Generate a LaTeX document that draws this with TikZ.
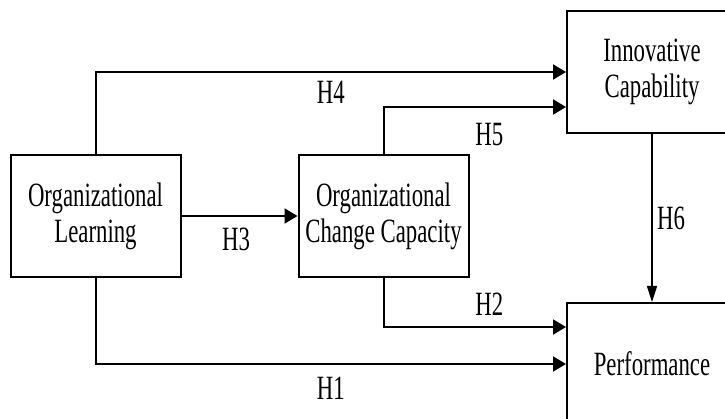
\documentclass[tikz,border=0pt]{standalone}
\usepackage{fontspec}
\setmainfont{Liberation Serif}[FakeStretch=0.67]
\usetikzlibrary{arrows.meta,positioning}
\tikzstyle{bloc} = [draw, rectangle, line width=2pt, minimum width=170pt, minimum height=122pt, inner sep=0pt, align=center]
\tikzstyle{lien} = [line width=2pt, -{Triangle[length=13pt,width=15pt]}]
\tikzstyle{lien_v} = [line width=1.6pt, -{Triangle[length=16pt,width=10pt]}]

\begin{document}
\begin{tikzpicture}[x=1pt, y=-1pt, font=\fontsize{34}{36}\selectfont]
    \useasboundingbox (0,0) rectangle (725,419);
    \clip (0,0) rectangle (725,419);
    \node [bloc] (apprent) at (95.5,216) {Organizational\\Learning};
    \node [bloc, right=116pt of apprent] (changement) {Organizational\\Change Capacity};
    \node [bloc] (innov) at (652,72) {Innovative\\Capability};
    \node [bloc, below=168pt of innov] (perf) {Performance};

    \draw[lien] (apprent) |- node[pos=0.75, below=5pt] {H4} (innov);
    \draw[lien] (changement) |- node[pos=0.79, below=12pt] {H5} ([yshift=-35pt]innov.west);
    \draw[lien] (apprent) -- node[pos=0.47, below=8pt] {H3} (changement);
    \draw[lien] (changement) |- node[pos=0.79, above=7pt] {H2} ([yshift=37pt]perf.west);
    \draw[lien] (apprent) |- node[pos=0.75, below=9pt] {H1} (perf);
    \draw[lien_v] (innov) -- node[right=1pt] {H6} (perf);
\end{tikzpicture}
\end{document}
